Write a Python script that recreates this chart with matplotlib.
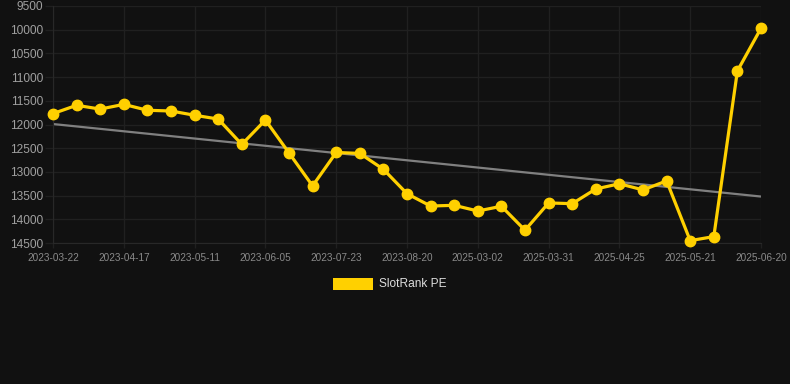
import matplotlib
matplotlib.use("Agg")
import matplotlib.pyplot as plt
from matplotlib.patches import Rectangle

plt.rcParams['font.family'] = ['Liberation Sans', 'DejaVu Sans']

series_name = "SlotRank PE"
values = [11770, 11595, 11675, 11575, 11700, 11715, 11805, 11885, 12420, 11905,
          12600, 13295, 12590, 12610, 12945, 13460, 13720, 13705, 13825, 13725,
          14230, 13655, 13670, 13360, 13250, 13380, 13190, 14450, 14365, 10870,
          9970]
tick_labels = ["2023-03-22", "2023-04-17", "2023-05-11", "2023-06-05", "2023-07-23",
               "2023-08-20", "2025-03-02", "2025-03-31", "2025-04-25", "2025-05-21",
               "2025-06-20"]
tick_every = 3
trend_start = 11990
trend_end = 13520
y_ticks = [9500, 10000, 10500, 11000, 11500, 12000, 12500, 13000, 13500, 14000, 14500]

BG = '#111111'
GRID = '#202020'
YELLOW = '#FFD000'

W, H = 790, 384
fig = plt.figure(figsize=(W / 100, H / 100), dpi=100, facecolor=BG)
ax = fig.add_axes([53 / W, 1 - 243 / H, (761 - 53) / W, (243 - 6) / H])
ax.set_facecolor(BG)

n = len(values)
x = list(range(n))
ax.plot([0, n - 1], [trend_start, trend_end], color='#808080', lw=1.6, zorder=2,
        solid_capstyle='butt')
ax.plot(x, values, color=YELLOW, lw=2.3, marker='o', markersize=7.5,
        markerfacecolor=YELLOW, markeredgecolor=YELLOW, zorder=3, clip_on=False)

ax.set_xlim(0, n - 1)
ax.set_ylim(14500, 9500)
ax.set_yticks(y_ticks)
ax.set_yticklabels([str(v) for v in y_ticks])
tick_pos = list(range(0, n, tick_every))
ax.set_xticks(tick_pos)
ax.set_xticklabels(tick_labels)

ax.grid(True, color=GRID, lw=1)
ax.set_axisbelow(True)
for s in ax.spines.values():
    s.set_visible(False)
ax.spines['bottom'].set_visible(True)
ax.spines['bottom'].set_color('#282828')
ax.spines['left'].set_visible(True)
ax.spines['left'].set_color('#282828')
ax.tick_params(axis='y', colors=GRID, labelcolor='#a0a0a0', labelsize=8.6,
               length=5.8, width=1, pad=1.5)
ax.tick_params(axis='x', colors=GRID, labelcolor='#8a8a8a', labelsize=7.2,
               length=3.5, width=1, pad=4)

# legend
fig.patches.append(Rectangle((333 / W, 1 - 290 / H), 40 / W, 12 / H,
                             transform=fig.transFigure, facecolor=YELLOW,
                             edgecolor='none'))
fig.text(379 / W, 1 - 284 / H, series_name, color='#dddddd', fontsize=8.6,
         va='center', ha='left')

fig.savefig('out.png', dpi=100, facecolor=BG)
